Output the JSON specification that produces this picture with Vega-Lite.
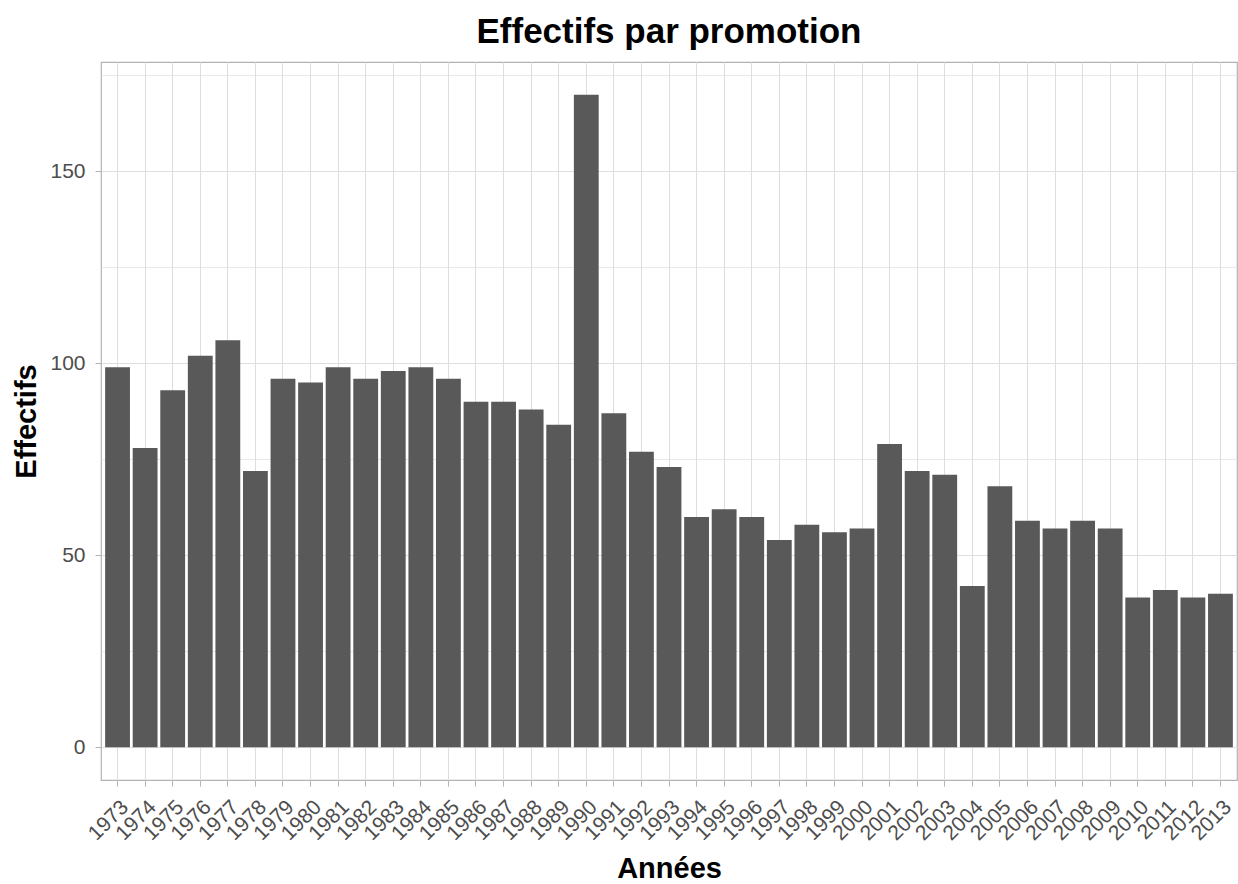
{
  "$schema": "https://vega.github.io/schema/vega-lite/v6.json",
  "autosize": "none",
  "padding": {"left": 101, "top": 62, "right": 1, "bottom": 104},
  "width": 1136,
  "height": 718,
  "background": "white",
  "title": {
    "text": "Effectifs par promotion",
    "font": "Liberation Sans",
    "fontSize": 35,
    "fontWeight": "bold",
    "color": "black",
    "anchor": "middle",
    "baseline": "alphabetic",
    "offset": 20,
    "dy": 36
  },
  "config": {
    "view": {"stroke": "#B3B3B3", "strokeWidth": 1.2},
    "axis": {
      "domain": false,
      "gridColor": "#DEDEDE",
      "tickColor": "#B3B3B3",
      "tickSize": 6,
      "labelFont": "Liberation Sans",
      "labelColor": "#4D4D4D",
      "labelFontSize": 21,
      "titleFont": "Liberation Sans",
      "titleFontSize": 29,
      "titleFontWeight": "bold",
      "titleColor": "black"
    }
  },
  "data": {
    "values": [
      {"annee": "1973", "effectifs": 99},
      {"annee": "1974", "effectifs": 78},
      {"annee": "1975", "effectifs": 93},
      {"annee": "1976", "effectifs": 102},
      {"annee": "1977", "effectifs": 106},
      {"annee": "1978", "effectifs": 72},
      {"annee": "1979", "effectifs": 96},
      {"annee": "1980", "effectifs": 95},
      {"annee": "1981", "effectifs": 99},
      {"annee": "1982", "effectifs": 96},
      {"annee": "1983", "effectifs": 98},
      {"annee": "1984", "effectifs": 99},
      {"annee": "1985", "effectifs": 96},
      {"annee": "1986", "effectifs": 90},
      {"annee": "1987", "effectifs": 90},
      {"annee": "1988", "effectifs": 88},
      {"annee": "1989", "effectifs": 84},
      {"annee": "1990", "effectifs": 170},
      {"annee": "1991", "effectifs": 87},
      {"annee": "1992", "effectifs": 77},
      {"annee": "1993", "effectifs": 73},
      {"annee": "1994", "effectifs": 60},
      {"annee": "1995", "effectifs": 62},
      {"annee": "1996", "effectifs": 60},
      {"annee": "1997", "effectifs": 54},
      {"annee": "1998", "effectifs": 58},
      {"annee": "1999", "effectifs": 56},
      {"annee": "2000", "effectifs": 57},
      {"annee": "2001", "effectifs": 79},
      {"annee": "2002", "effectifs": 72},
      {"annee": "2003", "effectifs": 71},
      {"annee": "2004", "effectifs": 42},
      {"annee": "2005", "effectifs": 68},
      {"annee": "2006", "effectifs": 59},
      {"annee": "2007", "effectifs": 57},
      {"annee": "2008", "effectifs": 59},
      {"annee": "2009", "effectifs": 57},
      {"annee": "2010", "effectifs": 39},
      {"annee": "2011", "effectifs": 41},
      {"annee": "2012", "effectifs": 39},
      {"annee": "2013", "effectifs": 40}
    ]
  },
  "mark": {"type": "bar", "color": "#595959"},
  "encoding": {
    "x": {
      "field": "annee",
      "type": "ordinal",
      "scale": {"paddingInner": 0.1, "paddingOuter": 0.15},
      "axis": {
        "title": "Années",
        "grid": true,
        "gridWidth": 1,
        "labelAngle": -45,
        "labelAlign": "right",
        "labelBaseline": "top",
        "labelPadding": 10,
        "titleBaseline": "alphabetic",
        "titleY": 97
      }
    },
    "y": {
      "field": "effectifs",
      "type": "quantitative",
      "scale": {"domain": [-8.5, 178.5], "nice": false, "zero": false},
      "axis": {
        "title": "Effectifs",
        "values": [0, 25, 50, 75, 100, 125, 150, 175],
        "labelExpr": "datum.value % 50 == 0 ? datum.label : ''",
        "tickColor": {"condition": {"test": "datum.value % 50 != 0", "value": "transparent"}, "value": "#B3B3B3"},
        "gridWidth": {"condition": {"test": "datum.value % 50 != 0", "value": 0.7}, "value": 1.2},
        "labelPadding": 10,
        "titleAngle": -90,
        "titleBaseline": "alphabetic",
        "titleX": -66,
        "titleY": 359
      }
    },
    "y2": {"datum": 0}
  }
}
